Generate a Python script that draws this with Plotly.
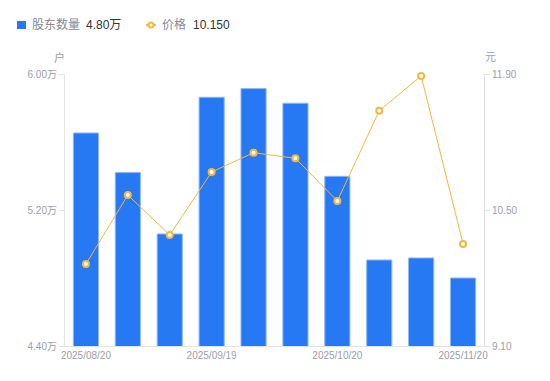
import plotly.graph_objects as go

dates = ["2025/08/20", "2025/08/29", "2025/09/10", "2025/09/19", "2025/09/30",
         "2025/10/10", "2025/10/20", "2025/10/31", "2025/11/10", "2025/11/20"]
holders = [5.653, 5.42, 5.059, 5.863, 5.914, 5.828, 5.398, 4.906, 4.918, 4.80]  # 万户
price = [9.944, 10.654, 10.243, 10.891, 11.09, 11.032, 10.593, 11.522, 11.88, 10.150]
shown_ticks = ["2025/08/20", "2025/09/19", "2025/10/20", "2025/11/20"]
left_ticks = [4.40, 5.20, 6.00]
right_ticks = [9.10, 10.50, 11.90]

BLUE = "#2779F3"
ORANGE = "#F7B541"
GRAY = "#9D9DAB"
AXIS = "#E3E3E6"
FONT = "Liberation Sans, Arial, Noto Sans CJK SC, sans-serif"

# page body has an 8px margin; plot area in page px: x 65..484, y 74..346
def px(x):
    return (x - 65) / 419

def py(y):
    return (346 - y) / 272

fig = go.Figure()
fig.add_trace(go.Bar(
    x=dates, y=holders, name="股东数量", width=0.6,
    marker=dict(color=BLUE, line=dict(color="#8DB6F7", width=1)),
    yaxis="y", hoverinfo="skip",
))
fig.add_trace(go.Scatter(
    x=dates, y=price, name="价格", mode="lines+markers", yaxis="y2",
    line=dict(color=ORANGE, width=1),
    marker=dict(size=6, color="white", line=dict(color=ORANGE, width=2)),
    hoverinfo="skip", cliponaxis=False,
))

fig.update_layout(
    width=542, height=373,
    margin=dict(l=57, r=66, t=66, b=35),
    paper_bgcolor="white", plot_bgcolor="white",
    showlegend=False,
    font=dict(family=FONT, size=10, color=GRAY),
    xaxis=dict(
        type="category", categoryorder="array", categoryarray=dates,
        range=[-0.5, len(dates) - 0.5],
        tickmode="array", tickvals=shown_ticks, ticktext=shown_ticks,
        showgrid=False, showline=True, linecolor=AXIS, linewidth=1,
        ticks="", tickfont=dict(size=10, color=GRAY), zeroline=False,
    ),
    yaxis=dict(
        range=[4.4, 6.0], tickmode="array", tickvals=left_ticks,
        ticktext=[f"{v:.2f}万" for v in left_ticks],
        showgrid=False, showline=True, linecolor=AXIS, linewidth=1,
        ticks="outside", ticklen=5, tickcolor=AXIS, zeroline=False,
        tickfont=dict(size=10, color=GRAY),
    ),
    yaxis2=dict(
        range=[9.1, 11.9], overlaying="y", side="right",
        tickmode="array", tickvals=right_ticks,
        ticktext=[f"{v:.2f}" for v in right_ticks],
        showgrid=False, showline=True, linecolor=AXIS, linewidth=1,
        ticks="outside", ticklen=5, tickcolor=AXIS, zeroline=False,
        tickfont=dict(size=10, color=GRAY),
    ),
)

# axis unit labels
fig.add_annotation(text="户", xref="paper", yref="paper", x=px(59), y=py(57),
                   xanchor="center", yanchor="middle", showarrow=False,
                   font=dict(size=11, color=GRAY))
fig.add_annotation(text="元", xref="paper", yref="paper", x=px(490), y=py(57),
                   xanchor="center", yanchor="middle", showarrow=False,
                   font=dict(size=11, color=GRAY))

# custom legend
LY = 25
fig.add_shape(type="rect", xref="paper", yref="paper",
              x0=px(17), x1=px(26), y0=py(29), y1=py(21),
              fillcolor=BLUE, line=dict(width=0))
fig.add_annotation(text="股东数量", xref="paper", yref="paper",
                   x=px(30), y=py(LY), xanchor="left", yanchor="middle",
                   showarrow=False, font=dict(size=12, color="#888896"))
fig.add_annotation(text=f"{holders[-1]:.2f}万", xref="paper", yref="paper",
                   x=px(84), y=py(LY), xanchor="left", yanchor="middle",
                   showarrow=False, font=dict(size=12, color="#333333"))
fig.add_shape(type="line", xref="paper", yref="paper",
              x0=px(146), x1=px(156), y0=py(LY), y1=py(LY),
              line=dict(color=ORANGE, width=2))
fig.add_shape(type="circle", xref="paper", yref="paper",
              x0=px(148.5), x1=px(153.5), y0=py(27.5), y1=py(22.5),
              fillcolor="white", line=dict(color=ORANGE, width=2))
fig.add_annotation(text="价格", xref="paper", yref="paper",
                   x=px(160), y=py(LY), xanchor="left", yanchor="middle",
                   showarrow=False, font=dict(size=12, color="#888896"))
fig.add_annotation(text=f"{price[-1]:.3f}", xref="paper", yref="paper",
                   x=px(191), y=py(LY), xanchor="left", yanchor="middle",
                   showarrow=False, font=dict(size=12, color="#333333"))

fig.write_html("out.html")
